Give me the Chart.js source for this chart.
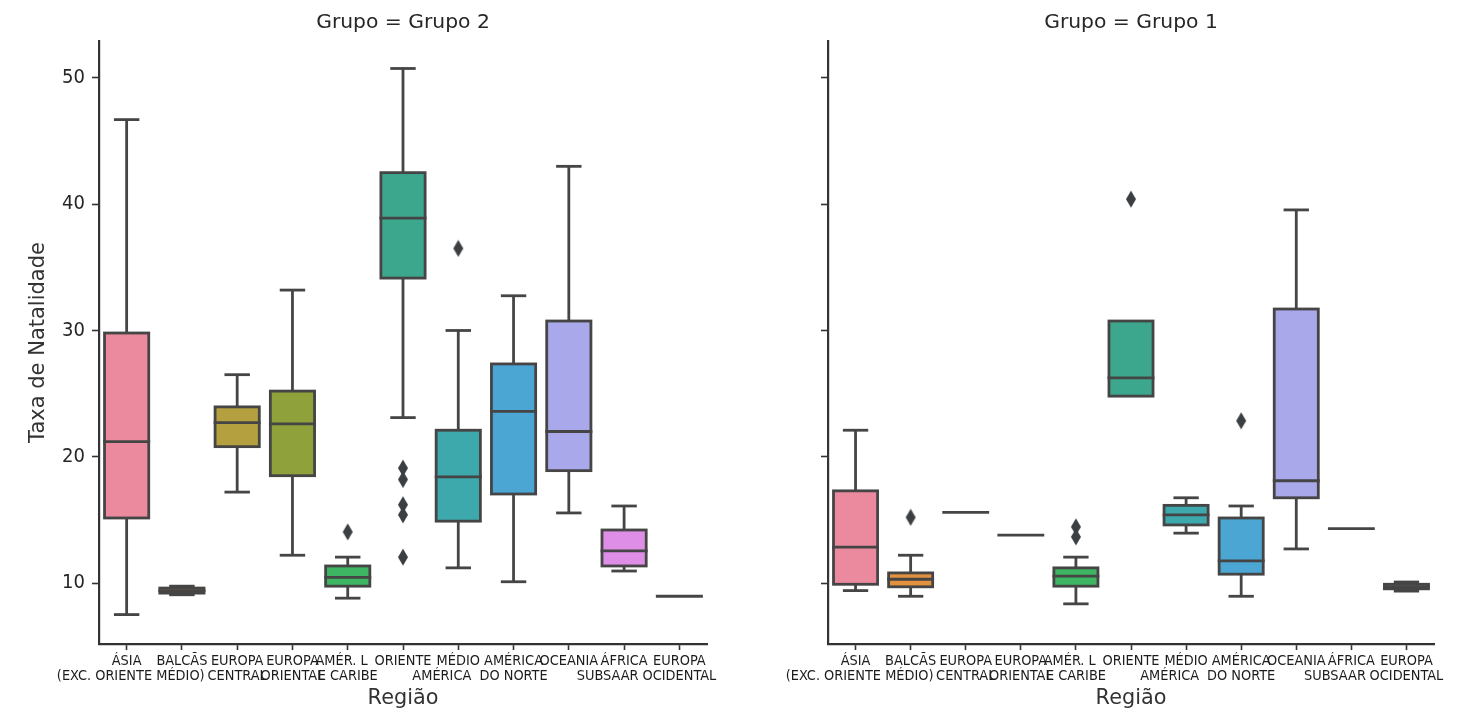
<!DOCTYPE html>
<html><head><meta charset="utf-8">
<script src="https://cdn.jsdelivr.net/npm/chart.js@4"></script>
<style>
html,body{margin:0;padding:0;background:#fff;width:1472px;height:720px;overflow:hidden}
canvas{position:absolute;top:0}
#a{left:0}#b{left:736px}
</style></head><body>
<canvas id="a" width="736" height="720"></canvas>
<canvas id="b" width="736" height="720"></canvas>
<script>
const P = '\u00A0';
const categories = [
  ['ÁSIA', P.repeat(2) + '(EXC. ORIENTE MÉDIO)'],
  ['BALCÃS', ''],
  ['EUROPA', 'CENTRAL'],
  ['EUROPA', 'ORIENTAL'],
  ['AMÉR. L' + P.repeat(3), 'E CARIBE'],
  ['ORIENTE', ''],
  ['MÉDIO', 'AMÉRICA' + P.repeat(8)],
  ['AMÉRICA', 'DO NORTE'],
  ['OCEANIA', ''],
  ['ÁFRICA', 'SUBSAAR' + P.repeat(8)],
  ['EUROPA', 'OCIDENTAL']
];
const colors = ['#EB8A9E','#E2913F','#B4A03E','#8EA13A','#3DB562','#3DA78E','#3EA9AC','#4BA6D3','#A9A8EA','#DF8EE8','#E58CC0'];
const yTicks = [10,20,30,40,50];

const g2Low  = [7.5, 9.07,17.2,12.2, 8.8,23.1,11.2,10.1,15.55,10.95,8.95];
const g2Q1   = [15.15,9.2,20.8,18.5,9.75,34.15,14.9,17.05,18.9,11.35,8.95];
const g2Med  = [21.2,9.4,22.7,22.6,10.45,38.9,18.4,23.6,22.0,12.55,8.95];
const g2Q3   = [29.8,9.6,23.95,25.2,11.35,42.5,22.1,27.35,30.75,14.2,8.95];
const g2High = [46.7,9.75,26.5,33.2,12.05,50.75,30.0,32.75,43.0,16.1,8.95];
const g2OutX = [4,5,5,5,5,5,6];
const g2OutY = [14.05,19.1,18.2,16.2,15.4,12.05,36.5];

const g1Low  = [9.4,8.95,15.6,13.8,8.35,24.8,13.95,8.95,12.7,14.3,9.36];
const g1Q1   = [9.9,9.7,15.6,13.8,9.75,24.8,14.6,10.7,16.75,14.3,9.54];
const g1Med  = [12.85,10.3,15.6,13.8,10.55,26.25,15.4,11.75,18.1,14.3,9.72];
const g1Q3   = [17.3,10.8,15.6,13.8,11.2,30.75,16.15,15.15,31.7,14.3,9.9];
const g1High = [22.1,12.2,15.6,13.8,12.05,30.75,16.75,16.1,39.55,14.3,10.08];
const g1OutX = [1,4,4,5,7];
const g1OutY = [15.2,14.45,13.65,40.4,22.85];

const LINE = '#454545', TXT = '#262626', FONT = '"DejaVu Sans"', COND = '"DejaVu Sans Condensed","DejaVu Sans"';

const diamond = document.createElement('canvas');
diamond.width = 12; diamond.height = 18;
(function(){const c = diamond.getContext('2d');c.fillStyle='#3b3f42';c.beginPath();
  c.moveTo(6,0.5);c.lineTo(11,9);c.lineTo(6,17.5);c.lineTo(1,9);c.closePath();c.fill();})();

const boxLines = {
  id:'boxLines',
  afterDatasetsDraw(chart, args, o){
    const {x, y} = chart.scales, c = chart.ctx;
    const step = x.getPixelForValue(1) - x.getPixelForValue(0);
    const half = step * 0.4, cap = step * 0.23;
    c.save(); c.strokeStyle = LINE; c.lineWidth = 2.8; c.lineCap = 'butt';
    const seg = (a,b,d,e)=>{c.beginPath();c.moveTo(a,b);c.lineTo(d,e);c.stroke();};
    o.med.forEach((m,i)=>{
      const px = x.getPixelForValue(i);
      const yLow = y.getPixelForValue(o.low[i]), yHigh = y.getPixelForValue(o.high[i]);
      const yQ1 = y.getPixelForValue(o.q1[i]), yQ3 = y.getPixelForValue(o.q3[i]), yM = y.getPixelForValue(m);
      seg(px,yLow,px,yQ1);
      seg(px,yQ3,px,yHigh);
      if(o.high[i]>o.q3[i]) seg(px-cap,yHigh,px+cap,yHigh);
      if(o.low[i]<o.q1[i]) seg(px-cap,yLow,px+cap,yLow);
      if(o.q3[i]>o.q1[i]) c.strokeRect(px-half,yQ3,half*2,yQ1-yQ3);
      seg(px-half-1.4,yM,px+half+1.4,yM);
    });
    c.restore();
  }
};

function panel(id, title, leftW, rightPad, low, q1, med, q3, high, outX, outY, showY){
  new Chart(document.getElementById(id), {
    data:{
      labels:categories,
      datasets:[
        {type:'bar', data:q1.map((v,i)=>[v,q3[i]]), backgroundColor:colors,
         borderWidth:0, barPercentage:0.8, categoryPercentage:1, order:2},
        {type:'scatter', data:outX.map((v,i)=>({x:categories[v],y:outY[i]})), pointStyle:diamond, pointRadius:6, order:1}
      ]
    },
    options:{
      responsive:false, animation:false, devicePixelRatio:1,
      layout:{padding:{right:rightPad,left:0,top:0,bottom:0}},
      plugins:{
        legend:{display:false}, tooltip:{enabled:false},
        title:{display:true, fullSize:false, text:title, color:TXT,
               font:{family:FONT,size:20.3,weight:'normal',lineHeight:1.2}, padding:{top:11,bottom:5.6}},
        boxLines:{low,q1,med,q3,high}
      },
      scales:{
        x:{type:'category', offset:true,
           grid:{display:true, offset:false, drawOnChartArea:false, drawTicks:true, tickLength:6, tickWidth:1.6, tickColor:'#333'},
           border:{display:true,color:'#333',width:2.2},
           ticks:{autoSkip:false,maxRotation:0,minRotation:0,color:'#1c1c1c',padding:3,font:{family:COND,size:14.4,lineHeight:1.1}},
           title:{display:true,text:'Região',color:'#333',font:{family:FONT,size:20.8,lineHeight:1.2},padding:{top:0,bottom:9}},
           afterFit(s){s.height=76;}},
        y:{type:'linear', min:5.17, max:52.93,
           afterBuildTicks(s){s.ticks=yTicks.map(v=>({value:v}));},
           grid:{display:true, drawOnChartArea:false, drawTicks:true, tickLength:7, tickWidth:1.6, tickColor:'#333'},
           border:{display:true,color:'#333',width:2.2},
           ticks:{color:TXT,padding:7,font:{family:COND,size:20},callback:v=>showY?String(v):''},
           title:{display:showY,text:'Taxa de Natalidade',color:'#333',font:{family:FONT,size:21,lineHeight:1.2},padding:{top:26,bottom:0}},
           afterFit(s){s.width=leftW;}}
      }
    },
    plugins:[boxLines]
  });
}
panel('a','Grupo = Grupo 2',99,29,g2Low,g2Q1,g2Med,g2Q3,g2High,g2OutX,g2OutY,true);
panel('b','Grupo = Grupo 1',92,38,g1Low,g1Q1,g1Med,g1Q3,g1High,g1OutX,g1OutY,false);
</script>
</body></html>
